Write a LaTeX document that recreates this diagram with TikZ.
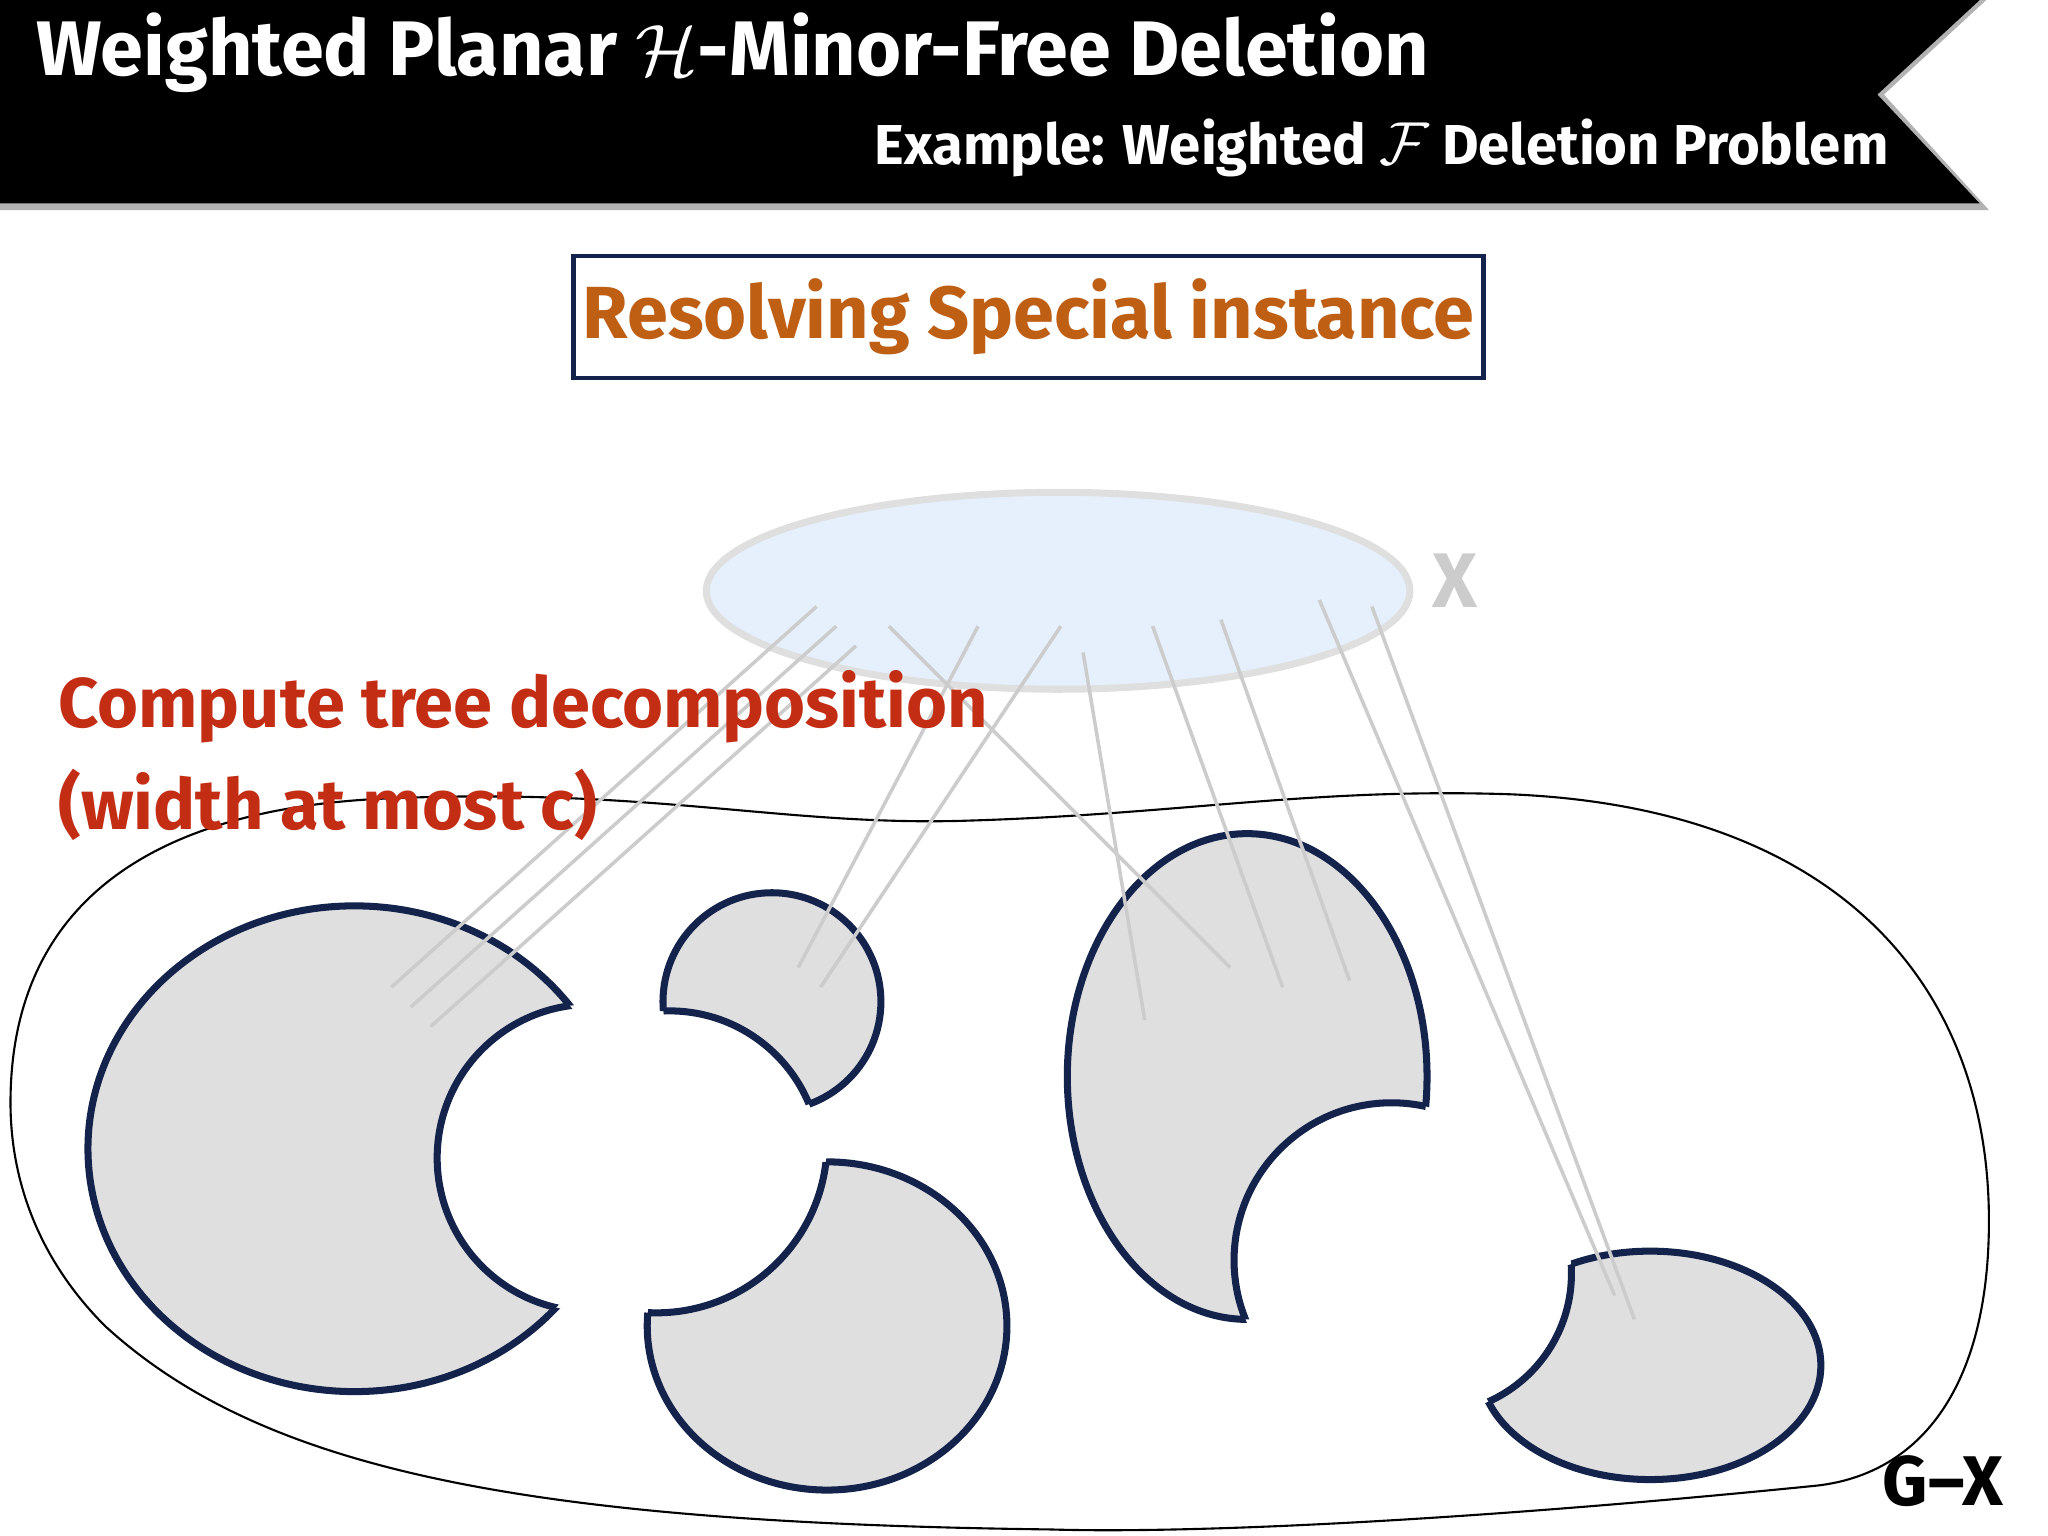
\documentclass[tikz,border=0pt]{standalone}
\usepackage{fontspec}
\setmainfont{Fira Sans}
\begin{document}
\begin{tikzpicture}[x=0.013128cm,y=-0.013128cm,
  ray/.style={gray!40,line width=1pt}]
\definecolor{orng}{RGB}{190,95,20}
\definecolor{rd}{RGB}{195,45,20}
\definecolor{navy}{RGB}{20,35,75}
\definecolor{xblue}{RGB}{230,240,252}
\tikzset{edge/.style={draw=navy,line width=2pt}}
\newcommand{\blobE}[6]{%
 \begin{scope}[even odd rule]
  \clip (-200,-200) rectangle (1800,1400) (#4) circle (#6);
  \fill[gray!25] (#1) ellipse (#3);
  \draw[edge] (#1) ellipse (#3);
 \end{scope}
 \begin{scope}\clip (#1) ellipse (#3);
  \draw[edge] (#4) circle (#6);
 \end{scope}}
\useasboundingbox (0,0) rectangle (1560,1170);
% title bar
\fill[gray!60] (0,0) -- (1513,0) -- (1435,72) -- (1515,160) -- (0,160) -- cycle;
\fill[black] (0,0) -- (1508,0) -- (1430,72) -- (1508,155) -- (0,155) -- cycle;
\node[anchor=west,text=white,font=\fontsize{22}{26}\selectfont\bfseries] (title) at (18,40) {Weighted Planar $\mathcal{H}$-Minor-Free Deletion};
\node[anchor=east,text=white,font=\fontsize{16}{20}\selectfont\bfseries] (sub) at (1448,113) {Example: Weighted $\mathcal{F}$ Deletion Problem};
\node[draw=navy,line width=1.3pt,minimum width=693*0.013128cm,minimum height=93*0.013128cm,inner sep=0pt,text=orng,font=\fontsize{21}{25}\selectfont\bfseries] (res) at (783.5,241.5) {Resolving Special instance};
% G-X region
\draw[black,line width=0.6pt] (8,840) .. controls (8,700) and (100,615) .. (300,608)
 .. controls (500,600) and (600,630) .. (740,625)
 .. controls (900,620) and (1000,600) .. (1150,605)
 .. controls (1400,615) and (1515,750) .. (1515,930)
 .. controls (1515,1060) and (1460,1125) .. (1380,1132)
 .. controls (1100,1160) and (900,1168) .. (800,1165)
 .. controls (400,1160) and (200,1120) .. (80,1010)
 .. controls (30,960) and (8,900) .. (8,840) -- cycle;
\node[font=\fontsize{20}{24}\selectfont\bfseries] (gx) at (1480,1128) {G--X};
% blobs
\blobE{270,875}{}{203 and 185}{450,882}{}{117}
\blobE{588,763}{}{83 and 83}{510,885}{}{115}
\blobE{630,1010}{}{137 and 125}{500,870}{}{130}
\blobE{950,820}{}{137 and 185}{1060,960}{}{120}
\blobE{1257,1040}{}{130 and 87}{1090,970}{}{107}
% X ellipse
\draw[fill=xblue,draw=gray!25,line width=2pt] (806,450) ellipse (268 and 75);
\node[text=gray!40,font=\fontsize{22}{26}\selectfont\bfseries] (xl) at (1108,442) {X};
% rays
\draw[ray] (622,462) -- (298,752);
\draw[ray] (637,477) -- (313,767);
\draw[ray] (652,492) -- (328,782);
\draw[ray] (677,477) -- (937,737);
\draw[ray] (745,477) -- (608,737);
\draw[ray] (808,477) -- (625,752);
\draw[ray] (825,497) -- (872,777);
\draw[ray] (878,477) -- (977,752);
\draw[ray] (930,472) -- (1028,747);
\draw[ray] (1005,457) -- (1230,987);
\draw[ray] (1045,462) -- (1245,1005);
% red text
\node[anchor=west,text=rd,font=\fontsize{20}{24}\selectfont\bfseries] (t1) at (35,538) {Compute tree decomposition};
\node[anchor=west,text=rd,font=\fontsize{20}{24}\selectfont\bfseries] (t2) at (35,613) {(width at most c)};
\end{tikzpicture}
\end{document}
